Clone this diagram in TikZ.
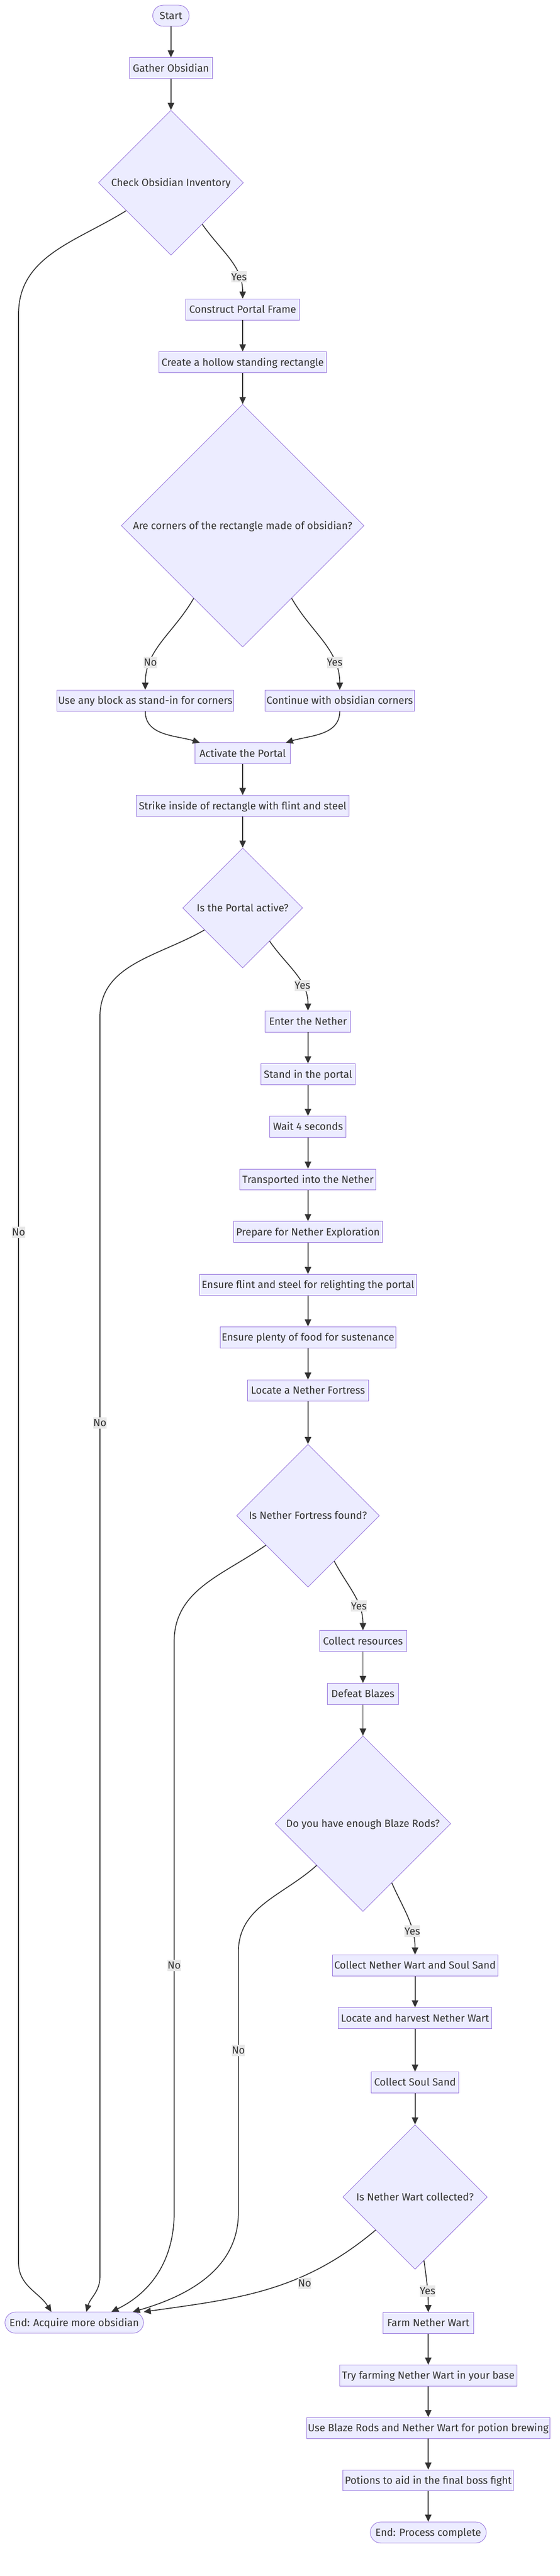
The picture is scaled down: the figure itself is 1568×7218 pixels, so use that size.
\documentclass[tikz,border=0pt]{standalone}
\usepackage{fontspec}
\setmainfont{Fira Sans}
\usetikzlibrary{arrows.meta, shapes.geometric}

\definecolor{boxfill}{HTML}{ECECFF}
\definecolor{boxline}{HTML}{9370DB}
\definecolor{ink}{HTML}{333333}
\definecolor{tagfill}{HTML}{E8E8E8}

\tikzset{
  txt/.style={text=ink, font=\fontsize{29}{34}\selectfont, text height=22pt, text depth=2pt},
  box/.style={txt, draw=boxline, fill=boxfill, line width=1.3pt, inner xsep=4pt, minimum height=59pt, minimum width=#1},
  pill/.style={box=#1, rounded corners=29.5pt},
  choice/.style={txt, diamond, aspect=1, draw=boxline, fill=boxfill, line width=1.3pt, inner sep=2pt, minimum width=#1, minimum height=#1},
  tag/.style={txt, fill=tagfill, inner xsep=0pt, inner ysep=4pt},
  flow/.style={draw=ink, line width=2.5pt},
}

\begin{document}
\begin{tikzpicture}[x=1pt, y=-1pt]
\useasboundingbox (0,0) rectangle (1568,7218);

% portal
\node[pill=102] (start) at (479,44) {Start};
\node[box=232] (gather) at (479,191) {Gather Obsidian};
\node[choice=406] (check) at (479,512) {Check Obsidian Inventory};
\node[box=320] (construct) at (680,867) {Construct Portal Frame};
\node[box=470] (hollow) at (680,1015) {Create a hollow standing rectangle};
\node[choice=680] (corners) at (680,1473) {Are corners of the rectangle made of obsidian?};
\node[box=495] (standin) at (407,1963) {Use any block as stand-in for corners};
\node[box=420] (obscorners) at (952,1963) {Continue with obsidian corners};
\node[box=266] (activate) at (680,2111) {Activate the Portal};
\node[box=596] (strike) at (680,2258) {Strike inside of rectangle with flint and steel};
\node[choice=336] (active) at (680,2544) {Is the Portal active?};

% nether
\node[box=240] (enter) at (863,2862) {Enter the Nether};
\node[box=265] (stand) at (863,3010) {Stand in the portal};
\node[box=214] (wait) at (863,3157) {Wait 4 seconds};
\node[box=381] (transport) at (863,3305) {Transported into the Nether};
\node[box=417] (prepare) at (863,3452) {Prepare for Nether Exploration};
\node[box=608] (flint) at (863,3600) {Ensure flint and steel for relighting the portal};
\node[box=492] (food) at (863,3747) {Ensure plenty of food for sustenance};
\node[box=340] (locate) at (863,3896) {Locate a Nether Fortress};
\node[choice=400] (fortress) at (863,4247) {Is Nether Fortress found?};
\node[box=244] (resources) at (1017,4598) {Collect resources};
\node[box=198] (blazes) at (1017,4746) {Defeat Blazes};
\node[choice=492] (rods) at (1017,5110) {Do you have enough Blaze Rods?};
\node[box=463] (wartsand) at (1163,5507) {Collect Nether Wart and Soul Sand};
\node[box=431] (harvest) at (1163,5655) {Locate and harvest Nether Wart};
\node[box=245] (soulsand) at (1163,5835) {Collect Soul Sand};
\node[choice=405] (wartok) at (1163,6156) {Is Nether Wart collected?};

% endings
\node[pill=388] (endobs) at (208,6508) {End: Acquire more obsidian};
\node[box=254] (farm) at (1200,6509) {Farm Nether Wart};
\node[box=497] (trybase) at (1200,6656) {Try farming Nether Wart in your base};
\node[box=677] (brew) at (1200,6803) {Use Blaze Rods and Nether Wart for potion brewing};
\node[box=478] (potions) at (1200,6950) {Potions to aid in the final boss fight};
\node[pill=325] (enddone) at (1200,7096) {End: Process complete};

\begin{scope}[>={Triangle[length=20pt,width=18pt]},
              every edge/.style={flow}]
    \path[->] (start) edge (gather);
    \path[->] (gather) edge (check);
    \path[->] (check.-53) edge[out=-55,in=90] node[tag,pos=0.75] {Yes} (construct);
    \path[->] (construct) edge (hollow);
    \path[->] (hollow) edge (corners);
    \path[->] (corners.-124) edge[out=-120,in=90] node[tag,pos=0.74] {No} (standin);
    \path[->] (corners.-56) edge[out=-60,in=90] node[tag,pos=0.74] {Yes} (obscorners);
    \path[->] (standin) edge[out=-90,in=163] ([xshift=-120pt]activate.north);
    \path[->] (obscorners) edge[out=-90,in=17] ([xshift=121pt]activate.north);
    \path[->] (activate) edge (strike);
    \path[->] (strike) edge (active);
    \path[->] (active.-51) edge[out=-55,in=90] node[tag,pos=0.68] {Yes} (enter);
    \path[->] (enter) edge (stand);
    \path[->] (stand) edge (wait);
    \path[->] (wait) edge (transport);
    \path[->] (transport) edge (prepare);
    \path[->] (prepare) edge (flint);
    \path[->] (flint) edge (food);
    \path[->] (food) edge (locate);
    \path[->] (locate) edge (fortress);
    \path[->] (fortress.-60) edge[out=-62,in=90] node[tag,pos=0.68] {Yes} (resources);
    \path[->] (resources) edge (blazes);
    \path[->] (blazes) edge (rods);
    \path[->] (rods.-64) edge[out=-66,in=90] node[tag,pos=0.7] {Yes} (wartsand);
    \path[->] (wartsand) edge (harvest);
    \path[->] (harvest) edge (soulsand);
    \path[->] (soulsand) edge (wartok);
    \path[->] (wartok.-82) edge[out=-82,in=90] node[tag,pos=0.6] {Yes} (farm);
    \path[->] (farm) edge (trybase);
    \path[->] (trybase) edge (brew);
    \path[->] (brew) edge (potions);
    \path[->] (potions) edge (enddone);

    % the No lanes down to the obsidian end
    \draw[->,flow] (check.-148) to[out=-148,in=90] (52,880) -- (52,3453) node[tag] {No}
        -- (52,6340) to[out=-90,in=122] ([xshift=-64pt]endobs.north);
    \draw[->,flow] (active.-150) to[out=-150,in=90] (280,2850) -- (280,3987) node[tag] {No}
        -- (280,6380) to[out=-90,in=75] ([xshift=34pt]endobs.north);
    \draw[->,flow] (fortress.-145) to[out=-145,in=90] (488,4600) -- (488,5507) node[tag] {No}
        -- (488,6200) to[out=-90,in=26] ([xshift=104pt]endobs.north);
    \draw[->,flow] (rods.-138) to[out=-138,in=90] (668,5470) -- (668,5745) node[tag] {No}
        -- (668,6200) to[out=-90,in=16] ([xshift=164pt]endobs.north);
    \path[->] (wartok.-140) edge[out=-140,in=8] node[tag,pos=0.33,yshift=-22pt] {No} (endobs.north east);
\end{scope}
\end{tikzpicture}
\end{document}
